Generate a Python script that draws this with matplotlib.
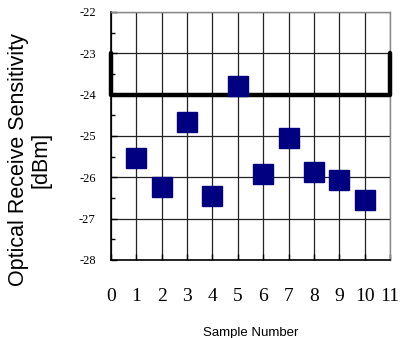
import matplotlib
matplotlib.use("Agg")
import matplotlib.pyplot as plt
from matplotlib.ticker import MultipleLocator

samples = [1, 2, 3, 4, 5, 6, 7, 8, 9, 10]
sensitivity = [-25.54, -26.24, -24.65, -26.46, -23.78, -25.93, -25.06, -25.86, -26.07, -26.56]
thresh_x = [0, 0, 11, 11]
thresh_y = [-23, -24, -24, -23]
xticks = list(range(0, 12))
yticks = [-28, -27, -26, -25, -24, -23, -22]
ytick_labels = ["-28", "-27", "-26", "-25", "-24", "-23", "-22"]

fig = plt.figure(figsize=(4.0, 3.38), dpi=100)
ax = fig.add_axes([0.2775, 0.2308, 0.6975, 0.7337])
ax.set_xlim(0, 11)
ax.set_ylim(-28, -22)

ax.set_xticks(xticks)
ax.set_xticklabels([str(t) for t in xticks], family="Liberation Serif", fontsize=14)
ax.set_yticks(yticks)
ax.set_yticklabels(ytick_labels, family="Liberation Serif", fontsize=9)
ax.yaxis.set_minor_locator(MultipleLocator(0.5))
ax.tick_params(axis="x", direction="in", length=4, pad=20, width=1)
ax.tick_params(axis="y", which="major", direction="in", length=4, pad=11, width=1)
ax.tick_params(axis="y", which="minor", direction="in", length=3, width=1)

ax.grid(True, which="major", color="#222222", linewidth=0.9)
ax.set_axisbelow(True)
for s in ["top", "right"]:
    ax.spines[s].set_color("#888888")
    ax.spines[s].set_linewidth(1)
for s in ["left", "bottom"]:
    ax.spines[s].set_color("black")
    ax.spines[s].set_linewidth(1.2)

ax.plot(thresh_x, thresh_y, color="black", linewidth=3.2, solid_capstyle="round",
        solid_joinstyle="round", zorder=3, clip_on=False)
ax.plot(samples, sensitivity, linestyle="none", marker="s", markersize=14.5,
        color="#000080", zorder=4)

fig.text(0.075, 0.527, "Optical Receive Sensitivity\n[dBm]", family="Liberation Sans",
         fontsize=15.5, rotation=90, ha="center", va="center", linespacing=1.1)
ax.set_xlabel("Sample Number", family="Liberation Sans", fontsize=9.5, labelpad=16)

fig.savefig("out.png", dpi=100)
